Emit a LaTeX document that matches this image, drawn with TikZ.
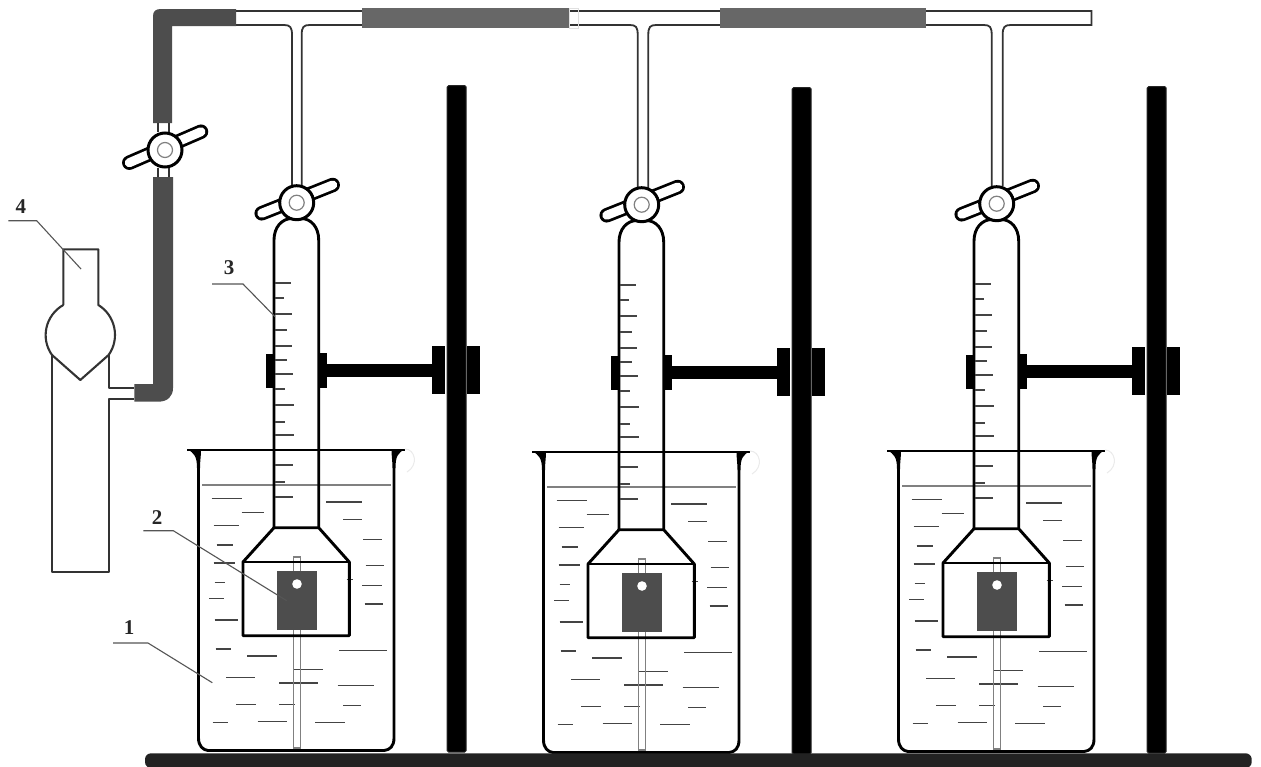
\documentclass[tikz,border=0pt]{standalone}
\usepackage{fontspec}
\setmainfont{Liberation Serif}
\definecolor{sleeveA}{HTML}{4D4D4D}
\definecolor{sleeveB}{HTML}{676767}
\definecolor{glass}{HTML}{333333}
\definecolor{dashc}{HTML}{444444}
\definecolor{rodc}{HTML}{808080}
\definecolor{leaderc}{HTML}{555555}
\definecolor{basec}{HTML}{222222}
\tikzset{
  wall/.style={draw=black,line width=2.9pt,line join=round},
  thinglass/.style={draw=glass,line width=1.8pt},
  block/.style={fill=black,draw=none},
  waterdash/.style={draw=dashc,line width=1.2pt},
  tick/.style={draw=dashc,line width=1.2pt},
  rodline/.style={draw=rodc,line width=1.5pt},
  leader/.style={draw=leaderc,line width=1.1pt},
  digit/.style={font=\bfseries\fontsize{21}{21}\selectfont,inner sep=0pt,text=black!85},
  handlehi/.style={line width=14.5pt,line cap=round,draw=black},
  handlelo/.style={line width=9pt,line cap=round,draw=white},
  cockbody/.style={draw=black,line width=3pt,fill=white},
  cockcore/.style={draw=rodc,line width=1.2pt,fill=white}
}
% one stopcock: centre, left handle end, right handle end
\newcommand\cockdraw[3]{%
  \draw[handlehi] #2 -- #3;
  \draw[handlelo] #2 -- #3;
  \draw[cockbody] #1 circle[radius=17];
  \draw[cockcore] #1 circle[radius=7.5];
}
\newcommand\apparatus[2]{%
\begin{scope}[shift={(#1,#2)}]
  % arm and collars
  \fill[black] (327,363.5) rectangle (432,376.5);
  \fill[block] (265.7,354) rectangle (274,387.7);
  \fill[block] (318,352.7) rectangle (327.3,387.5);
  \fill[block] (431.7,345.7) rectangle (444.6,394);
  \fill[block] (467,345.7) rectangle (480,394);
  % beaker
  \draw[wall] (187,450) -- (405,450);
  \fill[black] (187,449) .. controls (194,453) and (197,456) .. (197,468) -- (200,468) .. controls (200,461) and (201,456) .. (201,450) -- cycle;
  \fill[black] (405,449) .. controls (398,453) and (395.5,456) .. (395.5,468) -- (392.5,468) .. controls (392.5,461) and (391.5,456) .. (391.5,450) -- cycle;
  \draw[wall] (198.5,468) -- (198.5,738)
     .. controls (198.5,746) and (203,750) .. (208,750.5) -- (384,750.5)
     .. controls (390,750) and (394,746) .. (394,738) -- (394,468);
  \draw[draw=black!8,line width=1pt] (405,449) .. controls (415,449) and (419,465) .. (407,472);
  % water
  \draw[draw=rodc,line width=1.2pt] (202,485) -- (391,485);
  \foreach \a/\b/\c in {95/187/176,185/252/218,101/177/256,110/158/315,101/165/369,104/136/427,88/133/476,104/174/540,107/152/627,201/290/648,139/226/713,169/229/793,98/143/848,233/322/845,340/428/688,297/415/729,297/345/793,406/495/848,477/620/632,473/581/736,489/544/797,438/546/186,490/547/238,550/605/298,557/611/376,547/605/436,554/608/492,500/518/418}
    \draw[waterdash] ({180+\a/3},{440+\c/3}) -- ({180+\b/3},{440+\c/3});
  % rod
  \draw[rodline] (293.3,748) -- (293.3,557) -- (300.7,557) -- (300.7,748) -- cycle;
  % sample plate
  \fill[sleeveA] (277.3,570.7) rectangle (317.3,630);
  \fill[white] (297,584) circle[radius=4.8];
  % burette
  \draw[wall] (274,527.7) -- (274,240) .. controls (274,227) and (282,218.5) .. (292,218.5)
     -- (301,218.5) .. controls (311,218.5) and (318.7,227) .. (318.7,240) -- (318.7,527.7);
  \draw[wall] (274,527.7) -- (318.7,527.7) -- (349.3,562) -- (349.3,635.7) -- (243,635.7) -- (243,562) -- cycle;
  \draw[wall] (243,562) -- (349.3,562);
  \foreach \t/\e in {283/291,298/284,314/292,330/287,346/292,360/287,374/293,389/285,405/294,422/285,435/294,465/293,482/285,497/293}
    \draw[tick] (275,\t) -- (\e,\t);
  % stopcock
  \cockdraw{(296.7,202.7)}{(261.7,213.3)}{(332.7,185)}
  % pole
  \draw[fill=black,draw=black!85,line width=1pt,rounded corners=1.5pt] (447.2,752) -- (447.2,85.5) -- (466.2,85.5) -- (466.2,752) -- cycle;
\end{scope}}
\begin{document}
\begin{tikzpicture}[x=1pt,y=-1pt]
  \useasboundingbox (0,0) rectangle (1261,766);
  \fill[white] (0,0) rectangle (1261,766);
  % T-branches
  \draw[thinglass] (236,11) -- (1091.5,11) -- (1091.5,25) -- (1010.7,25)
     .. controls (1004.5,25) and (1002.7,27) .. (1002.7,35) -- (1002.7,186);
  \draw[thinglass] (991.7,186) -- (991.7,35) .. controls (991.7,27) and (990,25) .. (983.7,25) -- (926,25);
  \draw[thinglass] (720,25) -- (656.3,25) .. controls (650,25) and (648.3,27) .. (648.3,35) -- (648.3,188);
  \draw[thinglass] (637.7,188) -- (637.7,35) .. controls (637.7,27) and (636,25) .. (629.7,25) -- (569,25);
  \draw[thinglass] (362,25) -- (309.7,25) .. controls (303.5,25) and (301.7,27) .. (301.7,35) -- (301.7,186);
  \draw[thinglass] (292,186) -- (292,35) .. controls (292,27) and (290,25) .. (284,25) -- (236,25);
  % sleeves
  \fill[sleeveB] (362,8) rectangle (569,27.7);
  \fill[sleeveB] (720,8) rectangle (926,27.7);
  \draw[draw=black!12,line width=1pt] (569,8) rectangle (578,28);
  \fill[sleeveA] (153,123) -- (153,16) .. controls (153,11) and (156,9) .. (161,9) -- (236,9)
     -- (236,26) -- (172,26) -- (172,123) -- cycle;
  \fill[sleeveA] (153,177) -- (153,384) -- (134.3,384) -- (134.3,401.7) -- (158,401.7)
     .. controls (168,401.7) and (173,396) .. (173,388) -- (173,177) -- cycle;
  % left stopcock
  \draw[thinglass] (158,123) -- (158,132) (169.3,123) -- (169.3,132);
  \draw[thinglass] (158,168) -- (158,177) (169.3,168) -- (169.3,177);
  \cockdraw{(165,150)}{(129.3,162.7)}{(201,131.7)}
  % units
  \apparatus{0}{0}
  \apparatus{345}{2}
  \apparatus{700}{1}
  % base
  \fill[basec,rounded corners=6pt] (145,753.3) rectangle (1251.7,768);
  % generator vessel
  \draw[draw=glass,line width=2.1pt,line join=round]
    (63.3,305) -- (63.3,249.3) -- (98.3,249.3) -- (98.3,305)
    .. controls (115.1,315.1) and (120.5,338.3) .. (108.6,355)
    -- (80.3,380) -- (52,355)
    .. controls (40.1,338.3) and (45.5,315.1) .. (63.3,305);
  \draw[draw=glass,line width=1.9pt,line join=round]
    (51.7,355) -- (51.7,571.7) -- (109,571.7) -- (109,399.3) -- (134.3,399.3);
  \draw[draw=glass,line width=1.9pt,line join=round]
    (109,355) -- (109,387.7) -- (134.3,387.7);
  % labels
  \node[digit] (n4) at (21,207) {4};
  \node[digit] (n3) at (229,268) {3};
  \node[digit] (n2) at (157,518) {2};
  \node[digit] (n1) at (129,628) {1};
  \coordinate (a4) at (8.3,220.7);  \coordinate (b4) at (36.7,220.7);  \coordinate (c4) at (81,269);
  \coordinate (a3) at (212,284);    \coordinate (b3) at (243,284);     \coordinate (c3) at (275,316.7);
  \coordinate (a2) at (143.3,530.7);\coordinate (b2) at (173.3,530.7); \coordinate (c2) at (286.7,600.7);
  \coordinate (a1) at (113,643);    \coordinate (b1) at (148,643);     \coordinate (c1) at (212.3,682.7);
  \draw[leader] (a4) -- (b4) -- (c4);
  \draw[leader] (a3) -- (b3) -- (c3);
  \draw[leader] (a2) -- (b2) -- (c2);
  \draw[leader] (a1) -- (b1) -- (c1);
\end{tikzpicture}
\end{document}
